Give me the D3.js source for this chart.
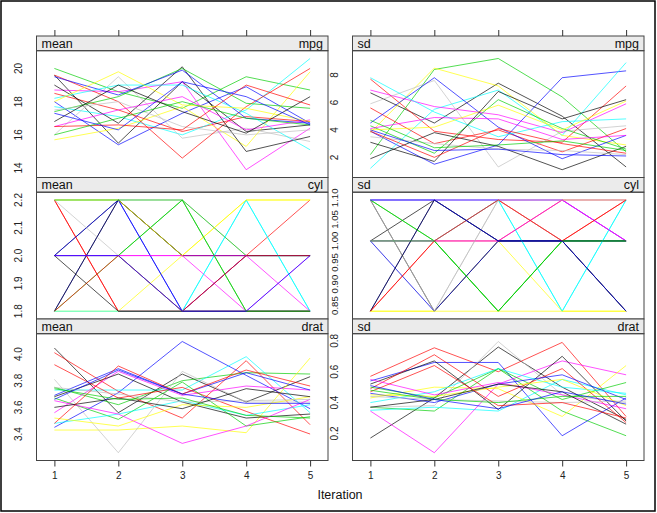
<!DOCTYPE html>
<html><head><meta charset="utf-8">
<script src="https://cdn.jsdelivr.net/npm/d3@7"></script>
<style>body{margin:0;background:#fff}svg{display:block;font-family:"Liberation Sans",Arial,sans-serif}</style>
</head><body><svg id="c" width="657" height="513"></svg>
<script>
const iterations = [1, 2, 3, 4, 5];
const palette = ["#000000", "#FF0000", "#00CD00", "#0000FF", "#00FFFF", "#FF00FF", "#FFFF00", "#BEBEBE"];

const meanMpg = [
  [19.6, 15.5, 19.2, 16.2, 16.6], [18.5, 17.5, 16.2, 17.1, 16.8], [20.0, 18.6, 17.6, 19.5, 18.7], [18.0, 15.4, 17.3, 18.9, 16.7],
  [17.7, 17.1, 16.0, 17.5, 20.6], [18.7, 18.6, 19.2, 13.9, 16.4], [15.7, 16.4, 17.7, 15.3, 19.8], [16.0, 19.5, 15.8, 16.4, 15.6],
  [19.0, 16.7, 20.1, 15.0, 15.9], [19.6, 18.0, 14.6, 17.7, 20.0], [17.4, 18.3, 20.0, 17.9, 17.6], [19.5, 18.4, 19.9, 17.0, 16.7],
  [18.2, 19.0, 19.0, 17.3, 15.1], [16.5, 17.5, 18.3, 16.3, 16.9], [18.0, 19.8, 17.8, 17.6, 16.8], [17.5, 18.0, 16.5, 16.0, 16.3],
  [16.8, 19.0, 17.4, 16.1, 18.3], [16.5, 16.6, 16.3, 19.0, 17.8], [16.0, 17.0, 18.0, 17.0, 16.6], [17.3, 16.3, 19.2, 18.3, 16.6]
];
const sdMpg = [
  [6.7, 4.5, 7.4, 5.0, 1.3], [7.7, 3.9, 3.3, 3.1, 7.2], [2.2, 8.4, 9.2, 6.4, 2.4], [3.9, 1.5, 2.9, 7.8, 8.3],
  [1.2, 5.5, 6.9, 3.6, 8.9], [6.9, 5.7, 5.1, 3.8, 5.9], [3.8, 8.5, 7.2, 3.6, 2.9], [5.9, 7.6, 1.3, 3.9, 4.3],
  [1.9, 3.8, 2.8, 1.1, 2.8], [5.6, 3.0, 4.0, 2.4, 4.1], [4.3, 2.3, 6.2, 4.1, 2.6], [4.5, 7.8, 4.2, 1.9, 3.6],
  [7.8, 5.3, 3.5, 4.6, 4.8], [4.1, 4.9, 4.8, 3.3, 3.6], [4.0, 4.2, 5.8, 4.0, 6.1], [3.5, 3.0, 2.6, 2.5, 2.2],
  [3.1, 1.7, 6.8, 4.8, 6.2], [3.9, 2.0, 4.1, 3.0, 2.3], [4.7, 2.7, 2.9, 3.2, 2.5], [4.0, 2.5, 2.6, 2.2, 2.1]
];
const meanCyl = [
  [2.0, 2.2, 2.0, 2.0, 2.0], [2.2, 1.8, 1.8, 2.0, 2.2], [2.0, 2.0, 2.2, 1.8, 1.8], [1.8, 2.2, 1.8, 1.8, 1.8],
  [2.0, 2.0, 1.8, 2.2, 1.8], [2.0, 2.0, 2.0, 1.8, 2.0], [1.8, 1.8, 2.0, 2.2, 2.2], [2.2, 2.2, 2.2, 2.0, 2.0],
  [1.8, 2.2, 2.0, 2.0, 2.0], [2.2, 1.8, 1.8, 1.8, 1.8], [1.8, 2.0, 2.2, 2.0, 2.0], [2.0, 2.2, 1.8, 2.0, 2.0],
  [1.8, 1.8, 1.8, 2.2, 1.8], [2.0, 2.0, 2.0, 2.0, 1.8], [2.2, 2.2, 2.0, 2.2, 2.2], [2.2, 2.0, 1.8, 1.8, 1.8],
  [2.0, 1.8, 1.8, 1.8, 1.8], [1.8, 2.0, 1.8, 2.0, 2.0], [2.2, 2.2, 2.2, 1.8, 1.8], [2.0, 2.0, 1.8, 1.8, 2.0]
];
const sdCyl = [
  [1.000, 1.095, 1.000, 1.000, 0.837], [1.000, 1.000, 1.095, 1.000, 1.095], [1.095, 1.000, 0.837, 1.000, 1.000], [0.837, 1.095, 1.095, 1.095, 1.000],
  [1.095, 1.095, 1.095, 0.837, 1.095], [1.095, 1.095, 1.095, 1.095, 1.000], [0.837, 0.837, 1.000, 0.837, 0.837], [1.000, 0.837, 1.095, 1.000, 1.000],
  [1.095, 0.837, 1.000, 1.000, 0.837], [0.837, 1.000, 1.000, 1.095, 1.095], [1.095, 1.000, 0.837, 1.000, 1.000], [1.000, 0.837, 1.000, 1.000, 1.000],
  [1.000, 1.000, 1.095, 0.837, 1.095], [1.000, 1.000, 1.000, 1.095, 1.000], [0.837, 0.837, 0.837, 0.837, 0.837], [1.095, 0.837, 1.095, 1.095, 1.095],
  [0.837, 1.095, 1.000, 1.000, 1.000], [0.837, 1.000, 1.095, 1.000, 1.095], [1.000, 1.000, 0.837, 1.000, 1.000], [1.095, 1.095, 1.000, 1.000, 0.837]
];
const meanDrat = [
  [4.045, 3.56, 3.85, 3.64, 3.83], [4.01, 3.72, 3.52, 3.95, 3.47], [3.75, 3.62, 3.80, 3.86, 3.85], [3.45, 3.71, 4.094, 3.84, 3.59],
  [3.73, 3.73, 3.73, 3.98, 3.56], [3.56, 3.87, 3.69, 3.76, 3.73], [3.43, 3.43, 3.46, 3.41, 3.97], [3.81, 3.26, 3.87, 3.64, 3.64],
  [3.68, 3.85, 3.64, 3.52, 3.55], [3.92, 3.67, 3.75, 3.57, 3.40], [3.67, 3.51, 3.79, 3.46, 3.53], [3.69, 3.89, 3.70, 3.86, 3.73],
  [3.48, 3.55, 3.65, 3.54, 3.62], [3.65, 3.55, 3.33, 3.46, 3.66], [3.52, 3.46, 3.62, 3.60, 3.68], [3.75, 3.70, 3.64, 3.65, 3.66],
  [3.60, 3.67, 3.59, 3.74, 3.68], [3.48, 3.91, 3.70, 3.88, 3.76], [3.74, 3.66, 3.67, 3.54, 3.52], [3.66, 3.88, 3.70, 3.63, 3.63]
];
const sdDrat = [
  [0.17, 0.43, 0.76, 0.50, 0.29], [0.57, 0.755, 0.60, 0.79, 0.31], [0.37, 0.345, 0.62, 0.345, 0.185], [0.54, 0.66, 0.66, 0.185, 0.43],
  [0.35, 0.37, 0.345, 0.55, 0.45], [0.345, 0.075, 0.52, 0.67, 0.58], [0.43, 0.50, 0.49, 0.31, 0.64], [0.37, 0.38, 0.796, 0.45, 0.40],
  [0.52, 0.67, 0.355, 0.70, 0.28], [0.49, 0.71, 0.44, 0.62, 0.27], [0.50, 0.43, 0.62, 0.42, 0.53], [0.46, 0.40, 0.52, 0.58, 0.42],
  [0.40, 0.47, 0.62, 0.50, 0.46], [0.55, 0.45, 0.53, 0.45, 0.36], [0.45, 0.44, 0.50, 0.55, 0.38], [0.44, 0.42, 0.41, 0.40, 0.41],
  [0.37, 0.42, 0.52, 0.47, 0.26], [0.47, 0.64, 0.38, 0.40, 0.30], [0.48, 0.42, 0.40, 0.44, 0.44], [0.51, 0.42, 0.36, 0.47, 0.39]
];

const ticksMeanMpg = ["14", "16", "18", "20"];
const ticksSdMpg = ["2", "4", "6", "8"];
const ticksMeanCyl = ["1.8", "1.9", "2.0", "2.1", "2.2"];
const ticksSdCyl = ["0.85", "0.90", "0.95", "1.00", "1.05", "1.10"];
const ticksMeanDrat = ["3.4", "3.6", "3.8", "4.0"];
const ticksSdDrat = ["0.2", "0.4", "0.6", "0.8"];

const panels = [
  {stat: "mean", v: "mpg", data: meanMpg, ticks: ticksMeanMpg, row: 0, col: 0},
  {stat: "sd", v: "mpg", data: sdMpg, ticks: ticksSdMpg, row: 0, col: 1},
  {stat: "mean", v: "cyl", data: meanCyl, ticks: ticksMeanCyl, row: 1, col: 0},
  {stat: "sd", v: "cyl", data: sdCyl, ticks: ticksSdCyl, row: 1, col: 1},
  {stat: "mean", v: "drat", data: meanDrat, ticks: ticksMeanDrat, row: 2, col: 0},
  {stat: "sd", v: "drat", data: sdDrat, ticks: ticksSdDrat, row: 2, col: 1}
];

const svg = d3.select("#c");
svg.append("rect").attr("x", 1).attr("y", 1).attr("width", 654).attr("height", 510)
  .attr("fill", "#fff").attr("stroke", "#000").attr("stroke-width", 1.5);

const colX = [[36.5, 328], [352.5, 644]];
const rowTop = [36, 177.5, 319];
const rowH = 141.5, stripH = 14.7;

panels.forEach(p => {
  const [x0, x1] = colX[p.col];
  const sTop = rowTop[p.row];
  const pTop = sTop + stripH, pBot = sTop + rowH;
  const xs = d3.scaleLinear().domain([1 - 0.28, 5 + 0.28]).range([x0, x1]);
  const all = p.data.flat();
  const mn = d3.min(all), mx = d3.max(all), r = mx - mn;
  const ys = d3.scaleLinear().domain([mn - 0.07 * r, mx + 0.07 * r]).range([pBot, pTop]);
  const g = svg.append("g");
  g.append("rect").attr("x", x0).attr("y", sTop).attr("width", x1 - x0).attr("height", stripH)
    .attr("fill", "#EBEBEB").attr("stroke", "#444").attr("stroke-width", 1);
  g.append("text").attr("x", x0 + 5).attr("y", sTop + stripH - 3).attr("font-size", 12.5).attr("fill", "#111").text(p.stat);
  g.append("text").attr("x", x1 - 5).attr("y", sTop + stripH - 3).attr("text-anchor", "end").attr("font-size", 12.5).attr("fill", "#111").text(p.v);
  const cid = "clip" + p.row + p.col;
  svg.append("clipPath").attr("id", cid).append("rect").attr("x", x0).attr("y", pTop).attr("width", x1 - x0).attr("height", pBot - pTop);
  const line = d3.line().x((d, i) => xs(iterations[i])).y(d => ys(d));
  g.append("g").attr("clip-path", `url(#${cid})`).selectAll("path").data(p.data).join("path")
    .attr("d", line).attr("fill", "none").attr("stroke", (d, i) => palette[i % palette.length])
    .attr("stroke-width", 1).attr("stroke-opacity", 0.68);
  g.append("rect").attr("x", x0).attr("y", pTop).attr("width", x1 - x0).attr("height", pBot - pTop)
    .attr("fill", "none").attr("stroke", "#444").attr("stroke-width", 1);
  const yAxis = d3.axisLeft(ys).tickValues(p.ticks.map(Number)).tickFormat((d, i) => p.ticks[i]).tickSize(0).tickPadding(0);
  const ya = g.append("g").attr("transform", `translate(${x0 - 15},0)`).call(yAxis);
  ya.select(".domain").remove();
  ya.selectAll(".tick").attr("transform", null);
  ya.selectAll("text").attr("font-size", p.v === "cyl" && p.stat === "sd" ? 9.6 : 10).attr("fill", "#222")
    .attr("font-family", "Liberation Sans, Arial, sans-serif")
    .attr("text-anchor", "middle").attr("dy", 0).attr("transform", "rotate(-90)")
    .each(function (d) { d3.select(this).attr("x", -ys(d)).attr("y", 0); });
  if (p.row === 0) {
    const ta = g.append("g").attr("transform", `translate(0,${sTop})`)
      .call(d3.axisTop(xs).tickValues(iterations).tickSize(6).tickFormat(""));
    ta.select(".domain").remove();
    ta.selectAll("line").attr("stroke", "#333");
  }
  if (p.row === 2) {
    const ba = g.append("g").attr("transform", `translate(0,${pBot})`)
      .call(d3.axisBottom(xs).tickValues(iterations).tickSize(6).tickPadding(5).tickFormat(d3.format("d")));
    ba.select(".domain").remove();
    ba.selectAll("line").attr("stroke", "#333");
    ba.selectAll("text").attr("font-size", 10).attr("fill", "#222").attr("font-family", "Liberation Sans, Arial, sans-serif");
  }
});
svg.append("text").attr("x", 340).attr("y", 499).attr("text-anchor", "middle").attr("font-size", 12.5).attr("fill", "#111").text("Iteration");
</script></body></html>
